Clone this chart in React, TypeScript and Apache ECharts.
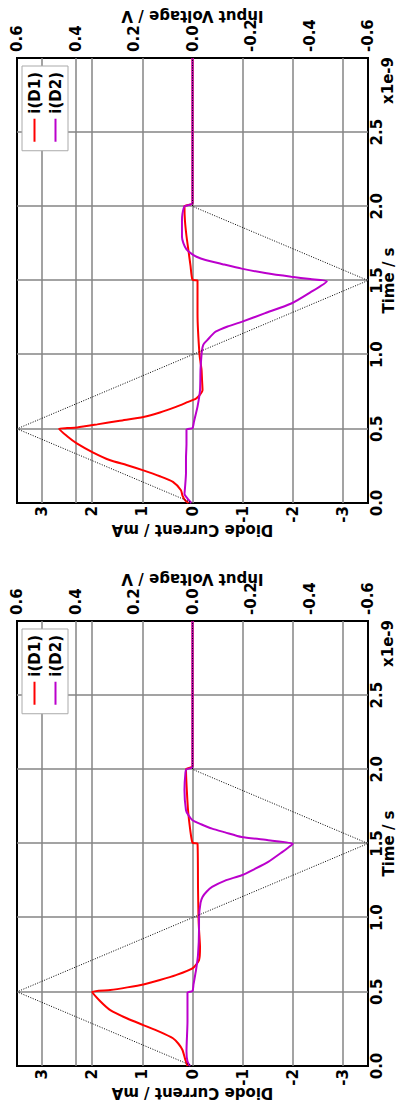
import React, { useEffect, useRef } from 'react';
import * as echarts from 'echarts';

// ---------- data (time in ns, current in mA, voltage in V) ----------
const seriesNames = ['i(D1)', 'i(D2)'];

const voltageT = [0, 0.5, 1.5, 2.0, 3.0];
const voltageV = [0, 0.6, -0.6, 0, 0];

// left panel (smaller peaks)
const leftD1T = [0, 0.05, 0.108, 0.15, 0.187, 0.23, 0.276, 0.32, 0.377, 0.44, 0.5, 0.512, 0.53, 0.55, 0.58, 0.613, 0.658, 0.714, 0.8, 0.92, 1.0, 1.2, 1.5, 1.505, 1.66, 1.78, 2.0, 2.02, 3.0];
const leftD1I = [0.1, 0.15, 0.2, 0.28, 0.39, 0.65, 0.98, 1.3, 1.64, 1.85, 2.0, 1.64, 1.3, 0.98, 0.65, 0.33, 0.0, -0.13, -0.15, -0.13, -0.12, -0.11, -0.1, 0, 0.07, 0.1, 0.13, 0, 0];
const leftD2T = [0, 0.03, 0.1, 0.3, 0.495, 0.505, 0.55, 0.646, 0.75, 0.92, 1.0, 1.1, 1.14, 1.175, 1.207, 1.25, 1.286, 1.33, 1.376, 1.44, 1.488, 1.5, 1.522, 1.544, 1.575, 1.6, 1.63, 1.657, 1.69, 1.724, 1.86, 1.98, 2.0, 2.015, 3.0];
const leftD2I = [0.05, 0.1, 0.12, 0.1, 0.1, 0.0, -0.02, -0.07, -0.11, -0.13, -0.13, -0.16, -0.2, -0.28, -0.39, -0.65, -0.98, -1.25, -1.51, -1.78, -1.97, -2.0, -1.51, -0.98, -0.65, -0.39, -0.17, 0.0, 0.08, 0.13, 0.16, 0.14, 0.12, 0, 0];

// right panel (larger peaks)
const rightD1T = [0, 0.02, 0.05, 0.086, 0.142, 0.18, 0.22, 0.255, 0.288, 0.34, 0.4, 0.45, 0.5, 0.505, 0.509, 0.53, 0.555, 0.58, 0.61, 0.648, 0.68, 0.704, 0.73, 0.76, 0.83, 0.9, 1.0, 1.28, 1.5, 1.505, 1.6, 1.7, 1.8, 1.9, 2.0, 2.02, 3.0];
const rightD1I = [0.08, 0.15, 0.2, 0.23, 0.39, 0.65, 0.98, 1.3, 1.64, 1.98, 2.3, 2.5, 2.66, 2.5, 2.3, 1.9, 1.45, 0.98, 0.65, 0.33, 0.1, -0.07, -0.15, -0.2, -0.19, -0.18, -0.14, -0.1, -0.1, 0, 0.04, 0.08, 0.12, 0.15, 0.16, 0, 0];
const rightD2T = [0, 0.03, 0.06, 0.1, 0.2, 0.3, 0.4, 0.495, 0.505, 0.55, 0.65, 0.76, 0.9, 1.0, 1.05, 1.075, 1.1, 1.13, 1.155, 1.19, 1.221, 1.28, 1.345, 1.42, 1.495, 1.51, 1.525, 1.55, 1.58, 1.61, 1.638, 1.66, 1.683, 1.71, 1.75, 1.795, 1.9, 1.95, 2.0, 2.02, 3.0];
const rightD2I = [0.02, 0.1, 0.16, 0.15, 0.13, 0.13, 0.12, 0.12, 0.0, -0.03, -0.1, -0.15, -0.16, -0.18, -0.2, -0.23, -0.3, -0.38, -0.46, -0.7, -0.98, -1.45, -1.97, -2.35, -2.68, -2.35, -1.97, -1.45, -0.98, -0.6, -0.26, -0.08, 0.03, 0.12, 0.18, 0.21, 0.21, 0.2, 0.16, 0, 0];

// axis ticks
const currentTicks = [-3.5, -3, -2.5, -2, -1.5, -1, -0.5, 0, 0.5, 1, 1.5, 2, 2.5, 3, 3.5];
const voltageTicks = [-0.6, -0.4, -0.2, 0, 0.2, 0.4, 0.6];
const voltageGridValues = [0.4];
const timeScaleLabel = 'x1e-9';

// ---------- styling ----------
const FONT = 'DejaVu Sans';
const GRID = '#858585';
const CLEAR = 'rgba(0,0,0,0)';
const RED = '#ff0000';
const PURPLE = '#bb00cc';
const txt = { fontFamily: FONT, fontWeight: 'bold' as const, fontSize: 15, color: '#000' };

const pairs = (t: number[], v: number[]) => t.map((x, i) => [x, v[i]]);

const panels = [
  { left: 40, d1: pairs(leftD1T, leftD1I), d2: pairs(leftD2T, leftD2I) },
  { left: 603, d1: pairs(rightD1T, rightD1I), d2: pairs(rightD2T, rightD2I) },
];
const PW = 445;
const PH = 354;
const TOP = 17;
const CW = 1106;

function buildOption() {
  const grid: any[] = [];
  const xAxis: any[] = [];
  const yAxis: any[] = [];
  const series: any[] = [];
  const legend: any[] = [];
  const graphic: any[] = [];

  panels.forEach((p, k) => {
    grid.push({
      left: p.left, top: TOP, width: PW, height: PH,
      show: true, borderColor: '#000', borderWidth: 2, backgroundColor: CLEAR,
    });
    xAxis.push({
      gridIndex: k, type: 'value', min: 0, max: 3, interval: 0.5,
      axisLine: { show: false }, axisTick: { show: false },
      splitLine: { show: true, showMinLine: false, showMaxLine: false, lineStyle: { color: GRID, width: 1.5 } },
      axisLabel: { ...txt, margin: 1, showMaxLabel: false, formatter: (v: number) => v.toFixed(1) },
      name: 'Time / s', nameLocation: 'middle', nameGap: 13, nameMoveOverlap: false, nameTextStyle: { ...txt },
    });
    yAxis.push({
      gridIndex: k, type: 'value', position: 'left', min: -3.5, max: 3.5, interval: 0.5,
      axisLine: { show: false }, axisTick: { show: false },
      splitLine: {
        show: true,
        lineStyle: { width: 1.5, color: currentTicks.map((v) => (Math.abs(v - Math.round(v)) < 1e-6 ? GRID : CLEAR)) },
      },
      axisLabel: {
        ...txt, margin: 3,
        formatter: (v: number) => (Math.abs(v - Math.round(v)) < 1e-6 ? String(Math.round(v) === 0 ? 0 : Math.round(v)) : ''),
      },
      name: 'Diode Current / mA', nameLocation: 'middle', nameRotate: 90, nameGap: 19, nameMoveOverlap: false, nameTextStyle: { ...txt },
    });
    yAxis.push({
      gridIndex: k, type: 'value', position: 'right', min: -0.6, max: 0.6, interval: 0.2,
      axisLine: { show: false }, axisTick: { show: false },
      splitLine: {
        show: true,
        lineStyle: { width: 1.5, color: voltageTicks.map((v) => (voltageGridValues.some((g) => Math.abs(g - v) < 1e-9) ? GRID : CLEAR)) },
      },
      axisLabel: { ...txt, margin: 6, formatter: (v: number) => (Math.abs(v) < 1e-9 ? 0 : v).toFixed(1) },
      name: 'Input Voltage / V', nameLocation: 'middle', nameRotate: 90, nameGap: 35, nameMoveOverlap: false, nameTextStyle: { ...txt },
    });
    const lineCommon = { type: 'line', xAxisIndex: k, symbol: 'none', showSymbol: false, smooth: 0.2 };
    series.push({
      ...lineCommon, name: seriesNames[0], yAxisIndex: 2 * k, data: p.d1,
      lineStyle: { color: RED, width: 2 }, itemStyle: { color: RED }, z: 3,
    });
    series.push({
      ...lineCommon, name: seriesNames[1], yAxisIndex: 2 * k, data: p.d2,
      lineStyle: { color: PURPLE, width: 2 }, itemStyle: { color: PURPLE }, z: 4,
    });
    series.push({
      name: 'Input Voltage', type: 'line', xAxisIndex: k, yAxisIndex: 2 * k + 1, data: pairs(voltageT, voltageV),
      symbol: 'none', lineStyle: { color: '#000', width: 1, type: [1, 1.5] }, z: 5,
    });
    legend.push({
      data: seriesNames, orient: 'vertical', icon: 'rect',
      right: CW - (p.left + PW - 8), top: TOP + 5,
      backgroundColor: '#fff', borderColor: '#aaa', borderWidth: 1,
      padding: [5, 6, 5, 9], itemGap: 6, itemWidth: 23, itemHeight: 2,
      textStyle: { ...txt }, selectedMode: false,
    });
    graphic.push({
      type: 'text', x: p.left + PW + 1, y: 388,
      style: { text: timeScaleLabel, font: `bold 15px "${FONT}"`, fill: '#000', textAlign: 'right', textVerticalAlign: 'middle' },
    });
  });

  return { animation: false, backgroundColor: '#fff', grid, xAxis, yAxis, series, legend, graphic };
}

export default function App() {
  const ref = useRef<HTMLDivElement>(null);
  useEffect(() => {
    const chart = echarts.init(ref.current!, null, { renderer: 'svg' });
    chart.setOption(buildOption() as any);
    return () => chart.dispose();
  }, []);
  return (
    <div style={{ position: 'absolute', left: 0, top: 0, width: 401, height: 1106, overflow: 'hidden', background: '#fff' }}>
      <div
        ref={ref}
        style={{
          position: 'absolute', left: 0, top: 0, width: 1106, height: 401,
          transformOrigin: '0 0', transform: 'translate(0px, 1106px) rotate(-90deg)',
        }}
      />
    </div>
  );
}
